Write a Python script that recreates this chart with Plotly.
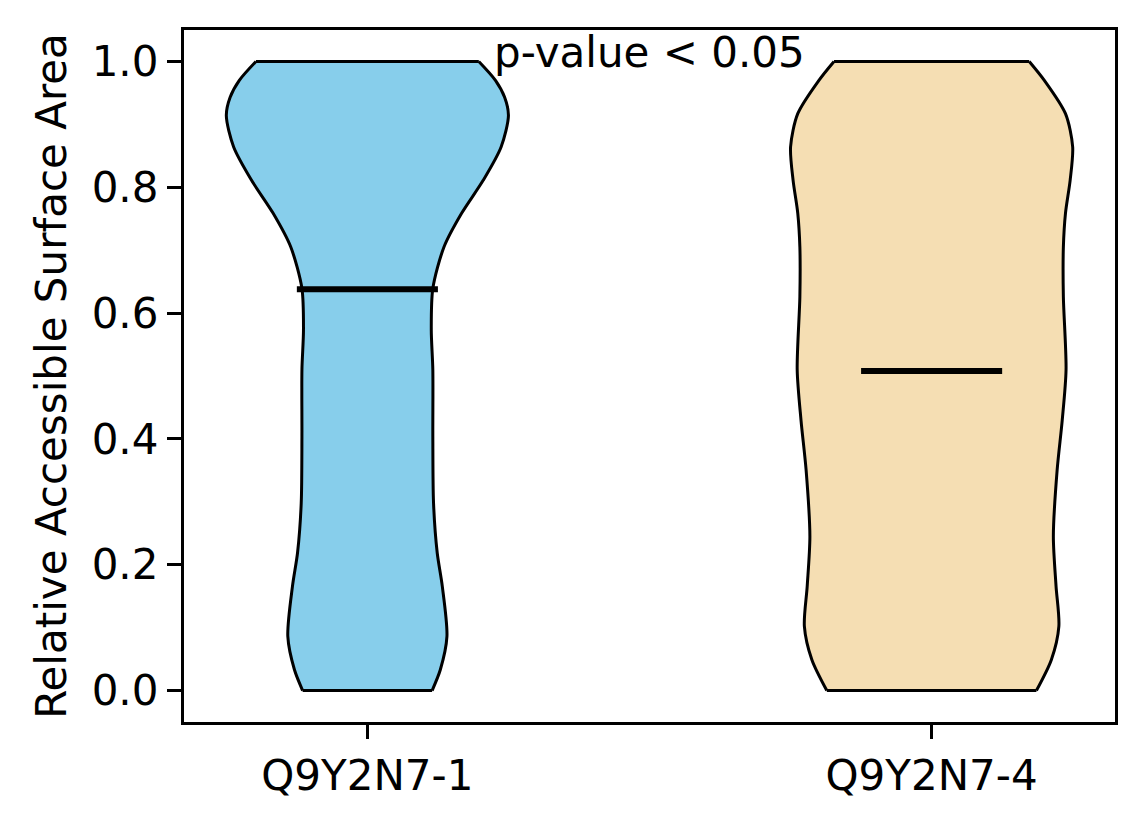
import plotly.graph_objects as go

# violin outlines: y levels and half-width relative to the widest point
labels = ["Q9Y2N7-1", "Q9Y2N7-4"]
positions = [1, 2]
colors = ["#87CEEB", "#F5DEB3"]

y_iso1 = [0.0, 0.033, 0.086, 0.166, 0.219, 0.298, 0.404, 0.51, 0.573, 0.639,
          0.705, 0.759, 0.811, 0.864, 0.914, 0.943, 0.970, 1.0]
dens_iso1 = [0.459, 0.517, 0.564, 0.531, 0.495, 0.469, 0.464, 0.464, 0.453, 0.464,
             0.543, 0.669, 0.821, 0.948, 1.0, 0.973, 0.908, 0.790]

y_iso4 = [0.0, 0.049, 0.102, 0.166, 0.245, 0.351, 0.430, 0.51, 0.626,
          0.705, 0.759, 0.811, 0.864, 0.917, 0.970, 1.0]
dens_iso4 = [0.743, 0.849, 0.902, 0.882, 0.863, 0.890, 0.926, 0.953, 0.934,
             0.934, 0.949, 0.982, 1.0, 0.949, 0.799, 0.692]

means = [0.638, 0.508]
half_width = 0.25

fig = go.Figure()

edge_x, edge_y = [], []
for pos, color, ys, dens in [(positions[0], colors[0], y_iso1, dens_iso1),
                             (positions[1], colors[1], y_iso4, dens_iso4)]:
    left = [pos - half_width * d for d in dens]
    right = [pos + half_width * d for d in dens]
    side_line = dict(color="black", width=3, shape="spline", smoothing=0.8)
    fig.add_trace(go.Scatter(x=left, y=ys, mode="lines", line=side_line,
                             hoverinfo="skip", showlegend=False))
    fig.add_trace(go.Scatter(x=right, y=ys, mode="lines", line=side_line,
                             fill="tonextx", fillcolor=color,
                             hoverinfo="skip", showlegend=False))
    # flat ends of the violin body
    edge_x += [left[0], right[0], None, left[-1], right[-1], None]
    edge_y += [ys[0], ys[0], None, ys[-1], ys[-1], None]

fig.add_trace(go.Scatter(x=edge_x, y=edge_y, mode="lines",
                         line=dict(color="black", width=3),
                         hoverinfo="skip", showlegend=False))

for pos, m in zip(positions, means):
    fig.add_trace(go.Scatter(
        x=[pos - half_width / 2, pos + half_width / 2],
        y=[m, m],
        mode="lines",
        line=dict(color="black", width=6),
        showlegend=False,
    ))

fig.add_annotation(
    x=1.5, y=1.015, xref="x", yref="y",
    text="p-value < 0.05", showarrow=False,
    xanchor="center", yanchor="middle",
    font=dict(size=42, color="black"),
)

axis_common = dict(
    showline=True, linecolor="black", linewidth=3.3, mirror=True,
    ticks="outside", ticklen=14, tickwidth=3.3, tickcolor="black",
    showgrid=False, zeroline=False,
    tickfont=dict(size=42, color="black"),
)

fig.update_xaxes(
    range=[0.675, 2.325], tickvals=positions, ticktext=labels, **axis_common
)
fig.update_yaxes(
    range=[-0.05, 1.05], tickvals=[0, 0.2, 0.4, 0.6, 0.8, 1.0], tickformat=".1f",
    title=dict(text="Relative Accessible Surface Area", font=dict(size=42, color="black"), standoff=12),
    **axis_common
)

# page body has an 8px margin, so the figure is a bit smaller than the window
fig.update_layout(
    width=1136, height=816,
    margin=dict(l=176, r=29, t=22, b=102),
    paper_bgcolor="white", plot_bgcolor="white",
    font=dict(family="DejaVu Sans", color="black"),
)

fig.write_html("out.html")
